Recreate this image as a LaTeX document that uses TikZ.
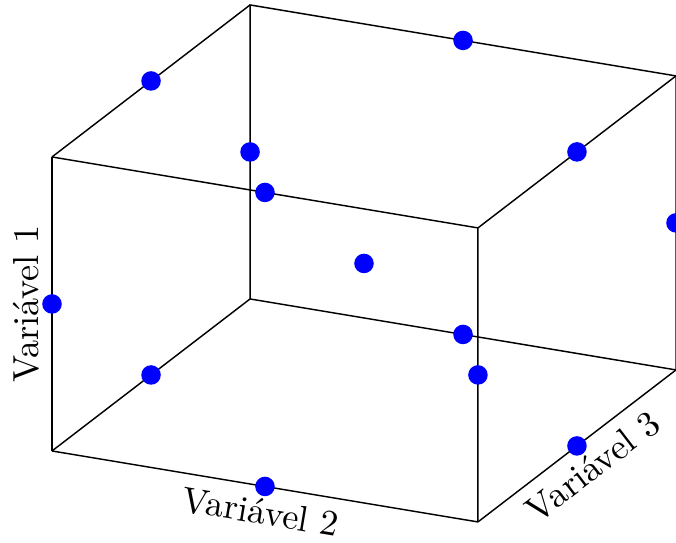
\documentclass[tikz,border=0pt]{standalone}
\usepackage{tikz}
\definecolor{ptblue}{RGB}{0, 0, 255}

\begin{document}
\begin{tikzpicture}[x={(4.136cm,-0.689cm)}, y={(0cm,2.855cm)}, z={(1.923cm,1.476cm)}]
	\def\pr{2.7pt}
	\useasboundingbox (-0.505cm,-0.884cm) rectangle (6.059cm,4.379cm);

	% --- corners of the box ---
	\coordinate (A) at (0,0,0);
	\coordinate (B) at (1,0,0);
	\coordinate (C) at (1,1,0);
	\coordinate (D) at (0,1,0);
	\coordinate (E) at (0,0,1);
	\coordinate (F) at (1,0,1);
	\coordinate (G) at (1,1,1);
	\coordinate (H) at (0,1,1);

	% --- edges with the axis labels ---
	\draw (A) -- node[sloped, above] (var1) {Variável 1} (D);
	\draw (A) -- node[sloped, below] (var2) {Variável 2} (B);
	\draw (B) -- node[sloped, below] (var3) {Variável 3} (F);

	% --- remaining edges ---
	\draw (B) -- (C) -- (D);
	\draw (E) -- (F) -- (G) -- (H) -- cycle;
	\draw (A) -- (E);
	\draw (C) -- (G);
	\draw (D) -- (H);

	% --- design points: edge midpoints and centre ---
	\foreach \a/\b in {0/0, 0/1, 1/0, 1/1} {
		\fill[ptblue] (0.5,\a,\b) circle (\pr);
		\fill[ptblue] (\a,0.5,\b) circle (\pr);
		\fill[ptblue] (\a,\b,0.5) circle (\pr);
	}
	\fill[ptblue] (0.5,0.5,0.5) circle (\pr);
\end{tikzpicture}
\end{document}
